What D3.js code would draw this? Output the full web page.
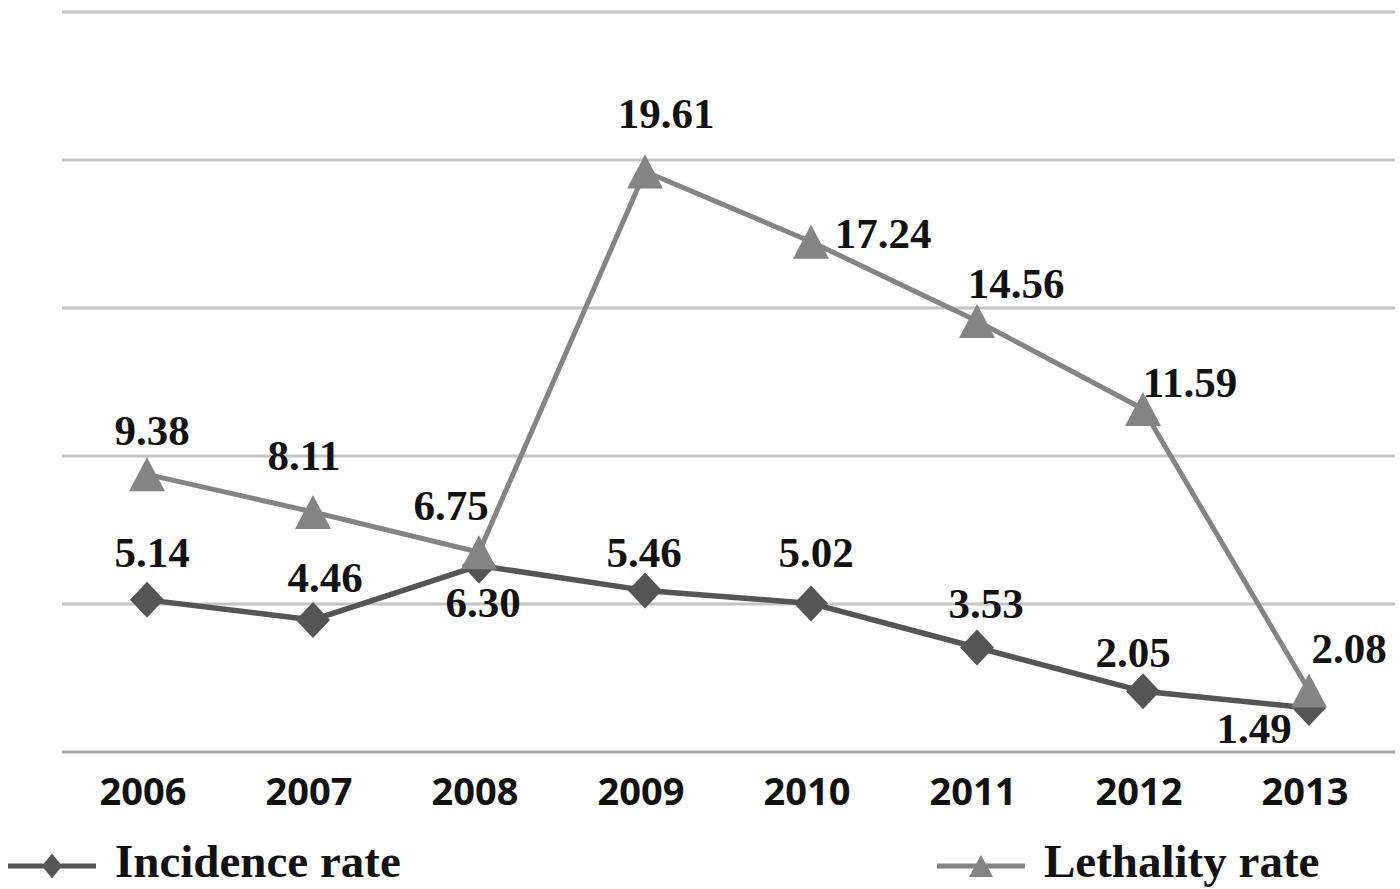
<!DOCTYPE html>
<html>
<head>
<meta charset="utf-8">
<script src="https://cdn.jsdelivr.net/npm/d3@7/dist/d3.min.js"></script>
<style>
  html, body { margin: 0; padding: 0; background: #fff; }
  svg { display: block; }
</style>
</head>
<body>
<svg id="chart" width="1400" height="889"></svg>
<script>
// ---- data ----
const years = ["2006", "2007", "2008", "2009", "2010", "2011", "2012", "2013"];
const incidence = [5.14, 4.46, 6.30, 5.46, 5.02, 3.53, 2.05, 1.49];
const lethality = [9.38, 8.11, 6.75, 19.61, 17.24, 14.56, 11.59, 2.08];
const yTicks = [0, 5, 10, 15, 20, 25];
const seriesNames = ["Incidence rate", "Lethality rate"];

// label offsets (style: where each value label sits relative to its point)
const incLabelOffset = [[5,-33],[12,-28],[4,51],[-1,-23],[5,-36],[9,-30],[-10,-24],[-55,35]];
const letLabelOffset = [[5,-29],[-9,-42],[-28,-32],[21,-44],[72,6],[39,-23],[47,-12],[40,-27]];

const incColor = "#555555";
const letColor = "#848484";

const svg = d3.select("#chart");

const x = d3.scaleBand().domain(years).range([64, 1392]);
const cx = d => x(d) + x.bandwidth() / 2;
const y = d3.scaleLinear().domain([0, 25]).range([752, 12]);

// gridlines
svg.append("g").selectAll("line").data(yTicks).join("line")
  .attr("x1", 62).attr("x2", 1395)
  .attr("y1", d => y(d)).attr("y2", d => y(d))
  .attr("stroke", d => d === 0 ? "#a8a8a8" : "#c4c4c4")
  .attr("stroke-width", 3);

// x tick labels
svg.append("g").selectAll("text").data(years).join("text")
  .attr("x", d => cx(d) - 4).attr("y", 805)
  .attr("text-anchor", "middle")
  .attr("font-family", "'Open Sans', sans-serif")
  .attr("font-weight", "bold")
  .attr("font-size", 38)
  .attr("fill", "#111")
  .text(d => d);

// marker shapes
function diamondPath(w, h) {
  return `M0,${-h/2}L${w/2},0L0,${h/2}L${-w/2},0Z`;
}
function trianglePath(w, h) {
  return `M0,${-h/2}L${w/2},${h/2}L${-w/2},${h/2}Z`;
}

const line = d3.line().x((d, i) => cx(years[i])).y(d => y(d));

// incidence series
svg.append("path").datum(incidence)
  .attr("d", line).attr("fill", "none")
  .attr("stroke", incColor).attr("stroke-width", 5.5).attr("stroke-linejoin", "round");
svg.append("g").selectAll("path").data(incidence).join("path")
  .attr("transform", (d, i) => `translate(${cx(years[i])},${y(d)})`)
  .attr("d", diamondPath(34, 36))
  .attr("fill", incColor);

// lethality series
svg.append("path").datum(lethality)
  .attr("d", line).attr("fill", "none")
  .attr("stroke", letColor).attr("stroke-width", 5).attr("stroke-linejoin", "round");
svg.append("g").selectAll("path").data(lethality).join("path")
  .attr("transform", (d, i) => `translate(${cx(years[i])},${y(d)})`)
  .attr("d", trianglePath(36, 34))
  .attr("fill", letColor);

// value labels
function labels(values, offsets) {
  svg.append("g").selectAll("text").data(values).join("text")
    .attr("x", (d, i) => cx(years[i]) + offsets[i][0])
    .attr("y", (d, i) => y(d) + offsets[i][1])
    .attr("text-anchor", "middle")
    .attr("font-family", "'Liberation Serif', 'Times New Roman', serif")
    .attr("font-weight", "bold")
    .attr("font-size", 43)
    .attr("fill", "#111")
    .text(d => d.toFixed(2));
}
labels(incidence, incLabelOffset);
labels(lethality, letLabelOffset);

// legend
const legend = [
  { name: seriesNames[0], color: incColor, x0: 8, shape: diamondPath(20, 25), lw: 5 },
  { name: seriesNames[1], color: letColor, x0: 937, shape: trianglePath(24, 22), lw: 5 }
];
const lg = svg.append("g").selectAll("g").data(legend).join("g")
  .attr("transform", d => `translate(${d.x0},866)`);
lg.append("line").attr("x1", 0).attr("x2", 88).attr("y1", 0).attr("y2", 0)
  .attr("stroke", d => d.color).attr("stroke-width", d => d.lw);
lg.append("path").attr("transform", "translate(44,0)")
  .attr("d", d => d.shape).attr("fill", d => d.color);
lg.append("text").attr("x", 107).attr("y", 11)
  .attr("font-family", "'Liberation Serif', 'Times New Roman', serif")
  .attr("font-weight", "bold").attr("font-size", 47).attr("fill", "#111")
  .text(d => d.name);
</script>
</body>
</html>
